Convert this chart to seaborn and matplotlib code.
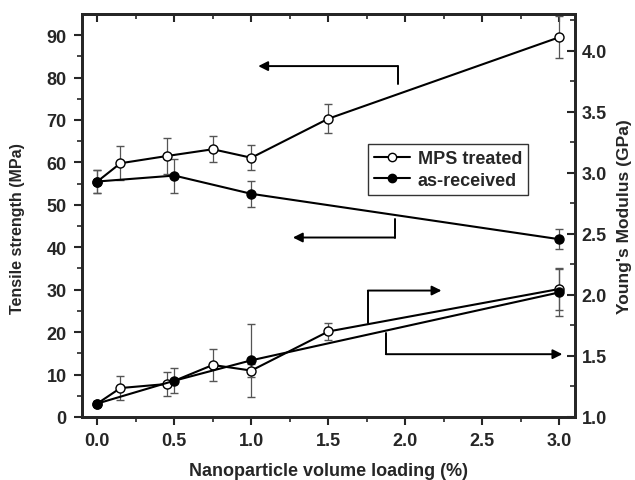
import numpy as np
import pandas as pd
import matplotlib
matplotlib.use("Agg")
import matplotlib.pyplot as plt
import seaborn as sns
from matplotlib.lines import Line2D

# tensile strength (MPa), left axis
mps_x = [0.0, 0.15, 0.45, 0.75, 1.0, 1.5, 3.0]
mps_ts = [55.5, 59.8, 61.5, 63.1, 61.1, 70.3, 89.5]
mps_ts_err = [2.6, 4.0, 4.2, 3.1, 3.0, 3.4, 5.0]

raw_x = [0.0, 0.5, 1.0, 3.0]
raw_ts = [55.5, 56.9, 52.6, 41.9]
raw_ts_err = [2.6, 4.0, 3.0, 2.3]

# Young's modulus (GPa), right axis
mps_mod = [1.11, 1.237, 1.27, 1.426, 1.38, 1.70, 2.048]
mps_mod_err = [0.02, 0.10, 0.095, 0.13, 0.05, 0.07, 0.17]
raw_mod = [1.11, 1.297, 1.464, 2.02]
raw_mod_err = [0.02, 0.10, 0.30, 0.19]

sns.set_style("ticks")
plt.rcParams["font.family"] = ["Liberation Sans", "DejaVu Sans"]
plt.rcParams["font.weight"] = "bold"

fig = plt.figure(figsize=(6.35, 4.81), dpi=100)
ax = fig.add_axes([0.129, 0.131, 0.776, 0.838])
ax2 = ax.twinx()

ecol = "#555555"
mk = dict(marker="o", markersize=6.5, linewidth=1.5, color="black",
          markeredgecolor="black", markeredgewidth=1.0)

# error bars
for a, xs, ys, es in [(ax, mps_x, mps_ts, mps_ts_err), (ax, raw_x, raw_ts, raw_ts_err),
                      (ax2, mps_x, mps_mod, mps_mod_err), (ax2, raw_x, raw_mod, raw_mod_err)]:
    a.errorbar(xs, ys, yerr=es, fmt="none", ecolor=ecol, elinewidth=0.9, capsize=3, zorder=2)

# lines
sns.lineplot(x=mps_x, y=mps_ts, ax=ax, markerfacecolor="white", zorder=3, **mk)
sns.lineplot(x=raw_x, y=raw_ts, ax=ax, markerfacecolor="black", zorder=4, **mk)
sns.lineplot(x=mps_x, y=mps_mod, ax=ax2, markerfacecolor="white", zorder=3, **mk)
sns.lineplot(x=raw_x, y=raw_mod, ax=ax2, markerfacecolor="black", zorder=4, **mk)

ax.set_xlim(-0.1, 3.1)
ax.set_ylim(0, 95)
ax2.set_ylim(1.0, 4.3)

ax.set_xticks(np.arange(0, 3.01, 0.5))
ax.set_xticks(np.arange(0, 3.01, 0.25), minor=True)
ax.set_yticks(np.arange(0, 91, 10))
ax.set_yticks(np.arange(0, 95, 5), minor=True)
ax2.set_yticks(np.arange(1.0, 4.01, 0.5))
ax2.set_yticks(np.arange(1.0, 4.3, 0.25), minor=True)

ax.tick_params(axis="both", which="major", labelsize=13, width=1.5, length=6, direction="out", pad=5)
ax.tick_params(axis="both", which="minor", width=1.2, length=3.5, direction="out")
ax2.tick_params(axis="y", which="major", labelsize=13, width=1.5, length=6, direction="in", pad=5)
ax2.tick_params(axis="y", which="minor", width=1.2, length=3.5, direction="in")
ax.set_xticklabels(["0.0", "0.5", "1.0", "1.5", "2.0", "2.5", "3.0"])
ax2.set_yticklabels(["1.0", "1.5", "2.0", "2.5", "3.0", "3.5", "4.0"])

# top ticks pointing inward
top = ax.secondary_xaxis("top")
top.set_xticks(np.arange(0, 3.01, 0.5))
top.set_xticks(np.arange(0, 3.01, 0.25), minor=True)
top.tick_params(which="major", direction="in", length=6, width=1.5, labeltop=False)
top.tick_params(which="minor", direction="in", length=3.5, width=1.2)
top.spines["top"].set_linewidth(2)

for a in (ax, ax2):
    for s in a.spines.values():
        s.set_visible(True)
        s.set_linewidth(2)

ax.set_xlabel("Nanoparticle volume loading (%)", fontsize=13, fontweight="bold", labelpad=9)
ax.set_ylabel("Tensile strength (MPa)", fontsize=11.5, fontweight="bold")
ax.yaxis.set_label_coords(-0.116, 0.47)
ax2.set_ylabel("Young's Modulus (GPa)", fontsize=12.5, fontweight="bold", labelpad=7)

# pointer arrows (left-axis data coords)
def pointer(xs, ys, tip):
    ax.plot(xs, ys, color="black", lw=1.4, zorder=5)
    ax.annotate("", xy=tip, xytext=(xs[-1], ys[-1]),
                arrowprops=dict(arrowstyle="-|>", color="black", lw=1.4,
                                mutation_scale=14, shrinkA=0, shrinkB=0), zorder=5)

pointer([1.95, 1.95], [78.5, 82.7], (1.045, 82.7))
pointer([1.93, 1.93], [46.7, 42.3], (1.27, 42.3))
pointer([1.757, 1.757], [22.1, 29.8], (2.235, 29.8))
pointer([1.874, 1.874], [19.8, 14.8], (3.02, 14.8))

# legend
h1 = Line2D([], [], marker="o", color="black", markerfacecolor="white", markersize=6, lw=1.5)
h2 = Line2D([], [], marker="o", color="black", markerfacecolor="black", markersize=6, lw=1.5)
leg = ax.legend([h1, h2], ["MPS treated", "as-received"], loc="upper left",
                bbox_to_anchor=(0.562, 0.70), frameon=True, fancybox=False,
                edgecolor="black", handlelength=2.0, handletextpad=0.4,
                borderpad=0.35, labelspacing=0.25,
                prop=dict(size=13, weight="bold"))
leg.get_frame().set_linewidth(1.0)

fig.savefig("out.png", dpi=100)
